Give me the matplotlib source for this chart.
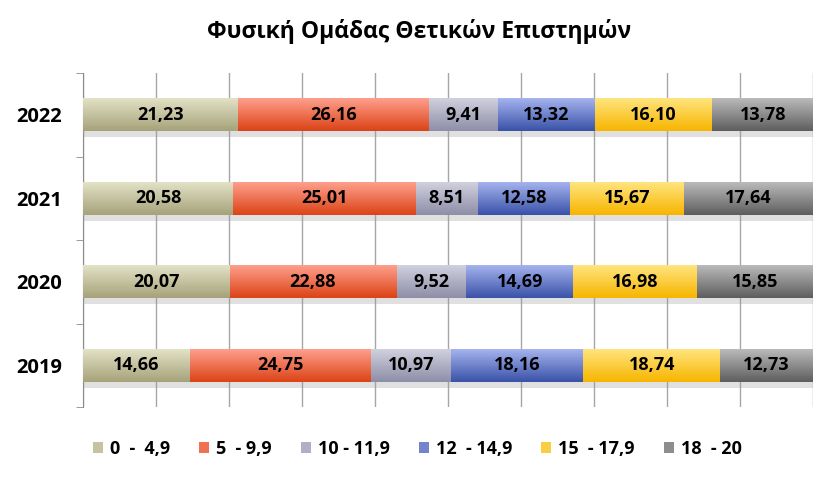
import numpy as np
import matplotlib
matplotlib.use("Agg")
import matplotlib.pyplot as plt
import matplotlib.patheffects as pe
from matplotlib.colors import LinearSegmentedColormap, to_rgb
from matplotlib.patches import Patch

plt.rcParams['font.family'] = ['Open Sans', 'DejaVu Sans']

# data
years = ['2019', '2020', '2021', '2022']
ranges = ['0  -  4,9', '5  - 9,9', '10 - 11,9', '12  - 14,9', '15  - 17,9', '18  - 20']
shares = [
    [14.66, 20.07, 20.58, 21.23],   # 0 - 4,9
    [24.75, 22.88, 25.01, 26.16],   # 5 - 9,9
    [10.97, 9.52, 8.51, 9.41],      # 10 - 11,9
    [18.16, 14.69, 12.58, 13.32],   # 12 - 14,9
    [18.74, 16.98, 15.67, 16.10],   # 15 - 17,9
    [12.73, 15.85, 17.64, 13.78],   # 18 - 20
]
title = 'Φυσική Ομάδας Θετικών Επιστημών'

# gradient colours (top, bottom) per series
grads = [
    ('#e4e4c8', '#a6a27a'),
    ('#ffa290', '#dc4316'),
    ('#d2d2e0', '#8e8ea8'),
    ('#a8b6f0', '#3a52a8'),
    ('#ffe682', '#f7b500'),
    ('#bdbdbd', '#5e5e5e'),
]

fig = plt.figure(figsize=(8.35, 4.8), dpi=100)
ax = fig.add_axes([83 / 835, 1 - 407 / 480, (813 - 83) / 835, (407 - 73) / 480])

y = np.arange(len(years))
left = np.zeros(len(years))
for vals, (top, bot), name in zip(shares, grads, ranges):
    vals = np.array(vals)
    bars = ax.barh(y, vals, left=left, height=0.4, color=bot, linewidth=0, zorder=3,
                   path_effects=[pe.SimplePatchShadow(offset=(0, -4), shadow_rgbFace='#999999', alpha=0.3),
                                 pe.Normal()])
    cmap = LinearSegmentedColormap.from_list(name, [bot, top])
    grad = np.linspace(0, 1, 64).reshape(-1, 1)
    for b, v in zip(bars, vals):
        x0, y0 = b.get_x(), b.get_y()
        im = ax.imshow(grad, cmap=cmap, aspect='auto', origin='lower',
                       extent=(x0, x0 + b.get_width(), y0, y0 + b.get_height()), zorder=4)
        im.set_clip_path(b)
        ax.text(x0 + b.get_width() / 2, y0 + b.get_height() / 2, f'{v:.2f}'.replace('.', ','),
                ha='center', va='center', fontsize=13, fontweight='bold', color='black', zorder=5)
    left += vals

ax.set_xlim(0, 100)
ax.set_ylim(-0.5, len(years) - 0.5)
ax.set_xticks(np.arange(0, 101, 10))
ax.set_xticklabels([])
ax.tick_params(axis='x', length=0)
ax.grid(axis='x', color='#a6a6a6', linewidth=1, zorder=0)
ax.set_axisbelow(True)

ax.set_yticks(y)
ax.set_yticklabels(years, fontsize=14.5, fontweight='bold')
ax.set_yticks(np.arange(-0.5, len(years), 1), minor=True)
ax.tick_params(axis='y', which='major', length=0, pad=15)
ax.tick_params(axis='y', which='minor', length=5, color='#8c8c8c')

for s in ['top', 'right', 'bottom']:
    ax.spines[s].set_visible(False)
ax.spines['left'].set_color('#8c8c8c')

fig.text(0.502, 1 - 31 / 480, title, ha='center', va='center', fontsize=16.5, fontweight='bold')


def mid(a, b):
    return tuple((np.array(to_rgb(a)) + np.array(to_rgb(b))) / 2)


handles = [Patch(facecolor=mid(t, bt), edgecolor='none') for t, bt in grads]
fig.legend(handles, ranges, loc='center', bbox_to_anchor=(0.5, 1 - 449 / 480), ncol=6, frameon=False,
           prop={'size': 13, 'weight': 'bold'}, handlelength=0.55, handleheight=0.55,
           handletextpad=0.4, columnspacing=1.6)

fig.savefig('out.png', dpi=100, facecolor='white')
